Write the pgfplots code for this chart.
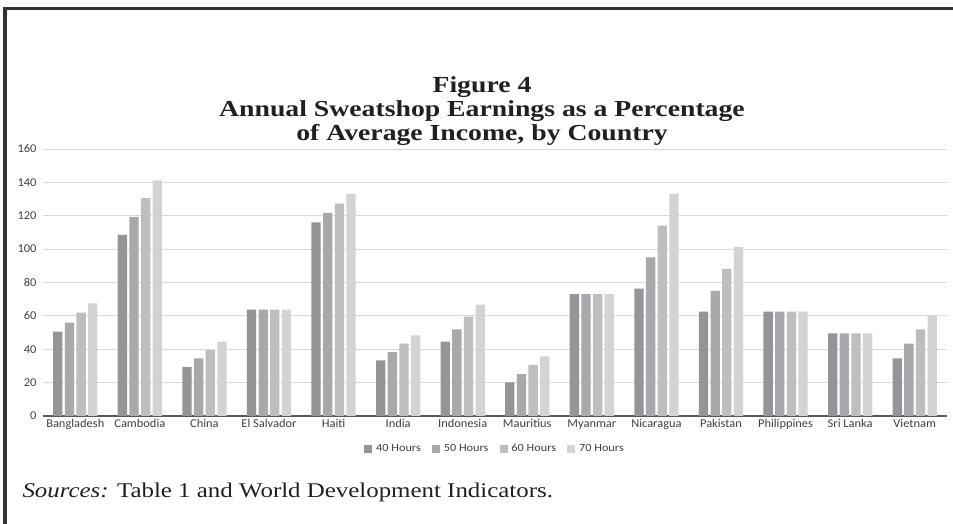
\documentclass[border=0pt]{standalone}
\usepackage{pgfplots}
\pgfplotsset{compat=1.18}
\usepackage{pgfplotstable}
\usepackage{fontspec}
\setmainfont{Liberation Serif}
\newfontfamily\titlefont[FakeStretch=1.21]{Liberation Serif}
\newfontfamily\srcfont[FakeStretch=1.19]{Liberation Serif}
\newfontfamily\calibri[FakeStretch=1.04]{Carlito}
\newfontfamily\calibrileg[FakeStretch=1.12]{Carlito}
\definecolor{c40}{HTML}{939598}
\definecolor{c50}{HTML}{A7A9AC}
\definecolor{c60}{HTML}{BCBEC0}
\definecolor{c70}{HTML}{D1D3D4}
\definecolor{gridc}{HTML}{D9D9D9}
\definecolor{framec}{HTML}{333333}
\definecolor{axisc}{HTML}{595959}
\definecolor{textc}{HTML}{231F20}

\pgfplotstableread{
x h40 h50 h60 h70
0 50.5 56 62 67.5
1 108.5 119.3 130.5 141.2
2 29.5 34.5 39.5 44.5
3 63.7 63.7 63.7 63.7
4 116 121.7 127.3 133.1
5 33.3 38.3 43.3 48.3
6 44.5 51.9 59.5 66.8
7 20.2 25.1 30.7 35.7
8 73 73 73 73
9 76.4 95 114.1 133.1
10 62.5 75 88.2 101.4
11 62.5 62.5 62.5 62.5
12 49.5 49.5 49.5 49.5
13 34.5 43.3 51.9 60.3
}\datatable

\begin{document}
\begin{tikzpicture}
\useasboundingbox (0,0) rectangle (953bp,524bp);
% frame
\fill[framec] (3bp,517bp) rectangle (953bp,514bp);
\fill[framec] (3bp,0bp) rectangle (6.5bp,517bp);
% title
\node[align=center, text=textc, font=\titlefont\fontsize{23}{24.5}\selectfont\bfseries] at (482bp,413bp)
  {Figure 4\\Annual Sweatshop Earnings as a Percentage\\of Average Income, by Country};
\begin{axis}[
  at={(43bp,108bp)}, anchor=south west,
  scale only axis, width=904bp, height=267bp,
  ymin=0, ymax=160, ytick={0,20,...,160},
  xmin=-0.5, xmax=13.5,
  xtick=data,
  xticklabels={Bangladesh,Cambodia,China,El Salvador,Haiti,India,Indonesia,Mauritius,Myanmar,Nicaragua,Pakistan,Philippines,Sri Lanka,Vietnam},
  ybar=2.35bp, bar width=9.3bp,
  axis lines*=left,
  y axis line style={draw=none},
  x axis line style={draw=axisc, line width=1.1bp, -},
  major tick length=0pt,
  ymajorgrids, grid style={gridc, line width=0.9bp},
  ticklabel style={font=\calibri\fontsize{12}{14}\selectfont, text=black!75},
  yticklabel style={xshift=-3bp},
  xticklabel style={yshift=0bp, text height=8bp, text depth=2bp},
  /pgf/number format/assume math mode=true,
  legend columns=4,
  legend style={at={(0.5,0)}, anchor=center, yshift=-33bp, draw=none, fill=none,
    font=\calibrileg\fontsize{11}{13}\selectfont, text=black!75,
    /tikz/every odd column/.append style={column sep=2bp},
    /tikz/every even column/.append style={column sep=9bp}},
  legend image code/.code={\fill[#1] (0bp,-4bp) rectangle (8bp,4bp);},
]
\addplot[fill=c40, draw=none] table[x=x, y=h40] {\datatable};
\addplot[fill=c50, draw=none] table[x=x, y=h50] {\datatable};
\addplot[fill=c60, draw=none] table[x=x, y=h60] {\datatable};
\addplot[fill=c70, draw=none] table[x=x, y=h70] {\datatable};
\legend{40 Hours,50 Hours,60 Hours,70 Hours}
\end{axis}
\node[anchor=base west, text=textc, font=\srcfont\fontsize{21}{24}\selectfont] at (19bp,27bp)
  {\textit{Sources:} Table 1 and World Development Indicators.};
\end{tikzpicture}
\end{document}
